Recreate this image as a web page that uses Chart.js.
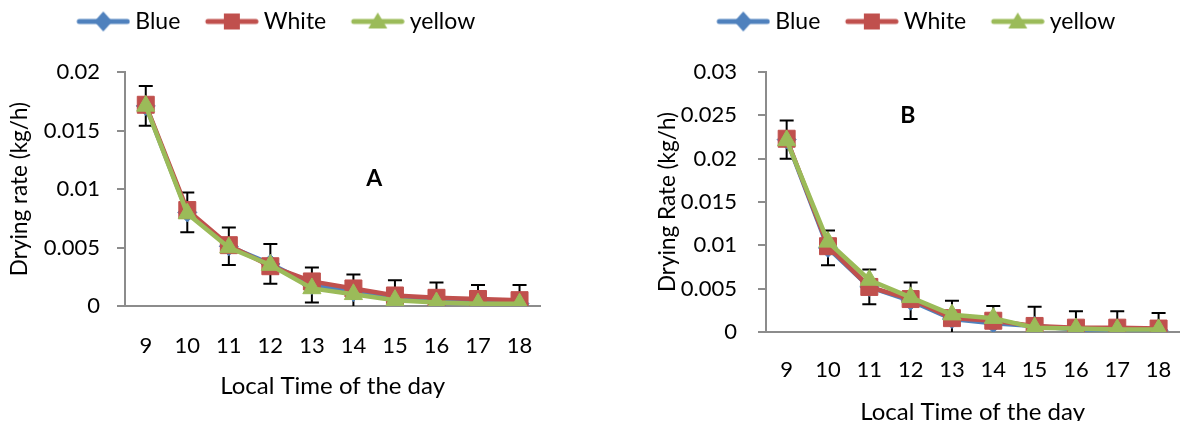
<!DOCTYPE html>
<html>
<head>
<meta charset="utf-8">
<title>Drying rate by local time</title>
<script src="https://cdn.jsdelivr.net/npm/chart.js@4.4.1/dist/chart.umd.min.js"></script>
<style>
  html, body { margin: 0; padding: 0; background: #fff; overflow: hidden; width: 1197px; height: 421px; }
  canvas { position: absolute; top: 0; }
  #chartA { left: -9px; }
  #chartB { left: 620px; }
</style>
</head>
<body>
<canvas id="chartA" width="569" height="421"></canvas>
<canvas id="chartB" width="577" height="440"></canvas>
<script>
// Local time of the day (hours)
const hours = ['9', '10', '11', '12', '13', '14', '15', '16', '17', '18'];

// Panel A: drying rate (kg/h)
const blueA   = [0.0171, 0.0080, 0.0051, 0.0036, 0.0018, 0.0012, 0.0007, 0.0005, 0.0003, 0.0002];
const whiteA  = [0.0172, 0.0082, 0.0052, 0.0034, 0.0021, 0.0015, 0.0009, 0.0007, 0.0006, 0.0005];
const yellowA = [0.0171, 0.0079, 0.0050, 0.0035, 0.0015, 0.0010, 0.0005, 0.0003, 0.0002, 0.0002];
const errA    = [0.0017, 0.0017, 0.0016, 0.0017, 0.0015, 0.0015, 0.0015, 0.0015, 0.0015, 0.0016];
const yTicksA = [0, 0.005, 0.01, 0.015, 0.02];

// Panel B: drying rate (kg/h)
const blueB   = [0.0222, 0.0097, 0.0052, 0.0036, 0.0015, 0.0010, 0.0007, 0.0003, 0.0003, 0.0002];
const whiteB  = [0.0223, 0.0099, 0.0052, 0.0038, 0.0016, 0.0013, 0.0007, 0.0005, 0.0005, 0.0004];
const yellowB = [0.0221, 0.0104, 0.0060, 0.0040, 0.0020, 0.0016, 0.0005, 0.0004, 0.0003, 0.0003];
const errB    = [0.0022, 0.0020, 0.0020, 0.0021, 0.0021, 0.0020, 0.0022, 0.0021, 0.0021, 0.0020];
const yTicksB = [0, 0.005, 0.01, 0.015, 0.02, 0.025, 0.03];

const seriesNames = ['Blue', 'White', 'yellow'];
const COLORS = { blue: '#4F81BD', red: '#C0504D', green: '#9BBB59' };
const AXIS = '#8c8c8c';
const FONT = 'Lato, "Open Sans", sans-serif';

Chart.defaults.font.family = FONT;
Chart.defaults.color = '#000';

// Legend symbol: a short thick line with the series marker in its middle.
// The symbol sits in the right part of the canvas so the legend item gets some leading space.
function legendIcon(color, shape) {
  const c = document.createElement('canvas');
  c.width = 75; c.height = 24;
  const g = c.getContext('2d');
  g.strokeStyle = color; g.fillStyle = color;
  g.lineWidth = 5; g.lineCap = 'round';
  g.beginPath(); g.moveTo(24, 12); g.lineTo(72, 12); g.stroke();
  const cx = 48, cy = 12;
  g.beginPath();
  if (shape === 'diamond') {
    g.moveTo(cx, cy - 10); g.lineTo(cx + 9, cy); g.lineTo(cx, cy + 10); g.lineTo(cx - 9, cy);
  } else if (shape === 'square') {
    g.rect(cx - 8, cy - 8, 16, 16);
  } else {
    g.moveTo(cx, cy - 9); g.lineTo(cx + 9.5, cy + 7); g.lineTo(cx - 9.5, cy + 7);
  }
  g.closePath(); g.fill();
  return c;
}
const legendIcons = [
  legendIcon(COLORS.blue, 'diamond'),
  legendIcon(COLORS.red, 'square'),
  legendIcon(COLORS.green, 'triangle')
];

// Vertical error bars with caps, drawn behind the series lines.
const errorBarPlugin = {
  id: 'errorBars',
  beforeDatasetsDraw(chart) {
    const { ctx, chartArea, scales } = chart;
    const x = scales.x, y = scales.y;
    ctx.save();
    ctx.beginPath();
    ctx.rect(chartArea.left, chartArea.top - 20, chartArea.width, chartArea.height + 20);
    ctx.clip();
    ctx.strokeStyle = '#000';
    ctx.lineWidth = 2;
    chart.data.datasets.forEach(ds => {
      if (!ds.errorBars) return;
      ds.data.forEach((v, i) => {
        const e = ds.errorBars[i];
        const px = x.getPixelForValue(i);
        const top = y.getPixelForValue(v + e);
        const bot = y.getPixelForValue(v - e);
        ctx.beginPath();
        ctx.moveTo(px, top); ctx.lineTo(px, bot);
        ctx.moveTo(px - 7, top); ctx.lineTo(px + 7, top);
        ctx.moveTo(px - 7, bot); ctx.lineTo(px + 7, bot);
        ctx.stroke();
      });
    });
    ctx.restore();
  }
};

// Bold panel letter placed in data coordinates.
const panelLabelPlugin = {
  id: 'panelLabel',
  afterDatasetsDraw(chart, args, opts) {
    if (!opts.text) return;
    const { ctx, scales } = chart;
    ctx.save();
    ctx.font = 'bold 23px ' + FONT;
    ctx.fillStyle = '#000';
    ctx.textAlign = 'center';
    ctx.textBaseline = 'middle';
    ctx.fillText(opts.text, scales.x.getPixelForValue(opts.x), scales.y.getPixelForValue(opts.y));
    ctx.restore();
  }
};

function formatTick(v) {
  return String(parseFloat(Number(v).toFixed(3)));
}

function buildChart(id, p) {
  const datasets = [
    { label: seriesNames[0], data: p.blue, borderColor: COLORS.blue, backgroundColor: COLORS.blue,
      pointStyle: 'rectRot', pointRadius: 9.5, errorBars: p.err, order: 2 },
    { label: seriesNames[1], data: p.white, borderColor: COLORS.red, backgroundColor: COLORS.red,
      pointStyle: 'rect', pointRadius: 12, order: 1 },
    { label: seriesNames[2], data: p.yellow, borderColor: COLORS.green, backgroundColor: COLORS.green,
      pointStyle: 'triangle', pointRadius: 10.5, order: 0 }
  ].map(d => Object.assign(d, {
    borderWidth: 4.5, tension: 0, pointBorderWidth: 1,
    pointBorderColor: d.borderColor, pointBackgroundColor: d.backgroundColor
  }));

  return new Chart(document.getElementById(id), {
    type: 'line',
    data: { labels: hours, datasets },
    plugins: [errorBarPlugin, panelLabelPlugin],
    options: {
      responsive: false,
      animation: false,
      events: [],
      layout: { padding: { left: 0, right: p.padRight, top: 0, bottom: p.padBottom } },
      plugins: {
        tooltip: { enabled: false },
        legend: {
          position: 'top',
          labels: {
            usePointStyle: true,
            pointStyleWidth: 62,
            padding: 10,
            font: { size: 23 },
            color: '#000',
            sort: (a, b) => a.datasetIndex - b.datasetIndex,
            generateLabels: chart =>
              Chart.defaults.plugins.legend.labels.generateLabels(chart)
                .map(l => Object.assign(l, { pointStyle: legendIcons[l.datasetIndex] }))
          }
        },
        // empty spacer between the legend and the plot area
        subtitle: {
          display: true, text: '', weight: 900,
          font: { size: 1, lineHeight: 1 },
          padding: { top: 28, bottom: 0 }
        },
        panelLabel: p.panel
      },
      scales: {
        x: {
          type: 'category',
          offset: true,
          grid: { display: false, drawTicks: false },
          border: { display: true, color: AXIS, width: 2 },
          ticks: { font: { size: 22 }, color: '#000', padding: p.xTickPad, maxRotation: 0, autoSkip: false },
          title: { display: true, text: 'Local Time of the day', font: { size: 24 }, color: '#000',
                   padding: { top: 0, bottom: 4 } },
          afterFit: s => { s.height = p.xHeight; }
        },
        y: {
          min: 0,
          max: p.yTicks[p.yTicks.length - 1],
          afterBuildTicks: s => { s.ticks = p.yTicks.map(v => ({ value: v })); },
          grid: { drawOnChartArea: false, drawTicks: true, tickLength: 8, color: AXIS, lineWidth: 2 },
          border: { display: true, color: AXIS, width: 2 },
          ticks: { font: { size: 22 }, color: '#000', padding: p.yTickPad, callback: formatTick },
          title: { display: true, text: p.yTitle, font: { size: 22.5 }, color: '#000',
                   padding: { top: p.yTitlePad, bottom: 0 } },
          afterFit: s => { s.width = p.yWidth; }
        }
      }
    }
  });
}

buildChart('chartA', {
  blue: blueA, white: whiteA, yellow: yellowA, err: errA, yTicks: yTicksA,
  yTitle: 'Drying rate (kg/h)',
  panel: { text: 'A', x: 5.5, y: 0.0109 },
  padRight: 14, padBottom: 16, xHeight: 99, yWidth: 134,
  xTickPad: 27, yTickPad: 17, yTitlePad: 15.5
});

buildChart('chartB', {
  blue: blueB, white: whiteB, yellow: yellowB, err: errB, yTicks: yTicksB,
  yTitle: 'Drying Rate (kg/h)',
  panel: { text: 'B', x: 2.93, y: 0.025 },
  padRight: 0, padBottom: 9, xHeight: 99, yWidth: 146,
  xTickPad: 25, yTickPad: 21, yTitlePad: 34.5
});
</script>
</body>
</html>
